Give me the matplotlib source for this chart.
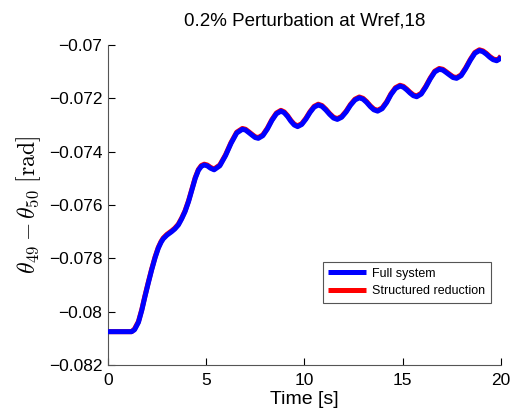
import matplotlib
matplotlib.use('Agg')
import matplotlib.pyplot as plt

# Данные
t = [0, 1.2, 1.35, 1.55, 1.72, 1.88, 2.05, 2.22, 2.4, 2.56, 2.7, 2.81, 3.0, 3.24,
     3.4, 3.58, 3.75, 3.92, 4.1, 4.26, 4.44, 4.6, 4.75, 4.9, 5.05, 5.22, 5.4,
     5.69, 5.98, 6.26, 6.55, 6.84,
     7.0, 7.16, 7.33, 7.49, 7.65,
     7.88, 8.11, 8.34, 8.57, 8.8,
     8.97, 9.14, 9.31, 9.48, 9.65,
     9.86, 10.07, 10.28, 10.49, 10.7,
     10.89, 11.09, 11.28, 11.48, 11.67,
     11.89, 12.12, 12.34, 12.57, 12.79,
     12.98, 13.16, 13.35, 13.53, 13.72,
     13.95, 14.18, 14.4, 14.63, 14.86,
     15.03, 15.2, 15.37, 15.54, 15.71,
     15.94, 16.17, 16.4, 16.63, 16.86,
     17.04, 17.21, 17.39, 17.56, 17.74,
     17.97, 18.2, 18.44, 18.67, 18.9,
     19.08, 19.25, 19.43, 19.6, 19.78,
     19.9, 20.0]

full_system = [-0.08075, -0.08075, -0.08068, -0.08040, -0.07995, -0.07944, -0.07893,
               -0.07844, -0.07797, -0.07762, -0.07740, -0.07727, -0.07713, -0.07700,
               -0.07690, -0.07675, -0.07652, -0.07625, -0.07587, -0.07546, -0.07500,
               -0.07470, -0.07455, -0.07450, -0.07453, -0.07462, -0.07468,
               -0.07453, -0.07415, -0.07369, -0.07330, -0.07316,
               -0.07319, -0.07328, -0.07338, -0.07347, -0.07350,
               -0.07340, -0.07315, -0.07283, -0.07258, -0.07248,
               -0.07254, -0.07268, -0.07286, -0.07300, -0.07306,
               -0.07298, -0.07278, -0.07253, -0.07233, -0.07225,
               -0.07230, -0.07244, -0.07260, -0.07274, -0.07279,
               -0.07271, -0.07251, -0.07226, -0.07206, -0.07198,
               -0.07203, -0.07215, -0.07231, -0.07243, -0.07248,
               -0.07239, -0.07216, -0.07186, -0.07163, -0.07154,
               -0.07158, -0.07168, -0.07180, -0.07190, -0.07194,
               -0.07184, -0.07158, -0.07127, -0.07101, -0.07091,
               -0.07094, -0.07103, -0.07113, -0.07122, -0.07125,
               -0.07115, -0.07089, -0.07057, -0.07031, -0.07021,
               -0.07025, -0.07034, -0.07046, -0.07055, -0.07059,
               -0.07054, -0.07044]

structured_reduction = [-0.08075, -0.08075, -0.08065, -0.08037, -0.07992, -0.07941, -0.07890,
                        -0.07841, -0.07794, -0.07759, -0.07737, -0.07724, -0.07710, -0.07697,
                        -0.07687, -0.07672, -0.07649, -0.07622, -0.07584, -0.07543, -0.07497,
                        -0.07467, -0.07452, -0.07447, -0.07450, -0.07459, -0.07465,
                        -0.07450, -0.07412, -0.07366, -0.07327, -0.07313,
                        -0.07316, -0.07325, -0.07335, -0.07344, -0.07347,
                        -0.07337, -0.07312, -0.07280, -0.07255, -0.07245,
                        -0.07251, -0.07265, -0.07283, -0.07297, -0.07303,
                        -0.07295, -0.07275, -0.07250, -0.07230, -0.07222,
                        -0.07227, -0.07241, -0.07257, -0.07271, -0.07276,
                        -0.07268, -0.07248, -0.07223, -0.07203, -0.07195,
                        -0.07200, -0.07212, -0.07228, -0.07240, -0.07245,
                        -0.07236, -0.07213, -0.07183, -0.07160, -0.07151,
                        -0.07155, -0.07165, -0.07177, -0.07187, -0.07191,
                        -0.07181, -0.07155, -0.07124, -0.07098, -0.07088,
                        -0.07091, -0.07100, -0.07110, -0.07119, -0.07122,
                        -0.07112, -0.07086, -0.07054, -0.07028, -0.07018,
                        -0.07022, -0.07031, -0.07043, -0.07052, -0.07056,
                        -0.07051, -0.07041]

y_ticks = [-0.082, -0.08, -0.078, -0.076, -0.074, -0.072, -0.07]
y_tick_labels = ['\u22120.082', '\u22120.08', '\u22120.078', '\u22120.076',
                 '\u22120.074', '\u22120.072', '\u22120.07']
x_ticks = [0, 5, 10, 15, 20]

plt.rcParams['font.family'] = ['Liberation Sans', 'DejaVu Sans']
plt.rcParams['mathtext.fontset'] = 'cm'

fig = plt.figure(figsize=(5.13, 4.16), dpi=100)
ax = fig.add_axes([0.2105, 0.1226, 0.7661, 0.7692])

ax.plot(t, structured_reduction, color='#ff0000', lw=3.6, label='Structured reduction',
        zorder=2, solid_joinstyle='round', solid_capstyle='butt')
ax.plot(t, full_system, color='#0000ff', lw=3.6, label='Full system',
        zorder=3, solid_joinstyle='round', solid_capstyle='butt')

ax.set_xlim(0, 20)
ax.set_ylim(-0.082, -0.07)
ax.set_xticks(x_ticks)
ax.set_yticks(y_ticks)
ax.set_yticklabels(y_tick_labels)
ax.tick_params(direction='in', labelsize=12.5, length=5, width=0.8, pad=4)
ax.tick_params(axis='x', pad=6)

ax.spines['top'].set_visible(False)
ax.spines['right'].set_visible(False)
ax.spines['left'].set_color('#555555')
ax.spines['bottom'].set_color('#555555')

ax.set_xlabel('Time [s]', fontsize=14, labelpad=2)
ax.set_ylabel(r'$\theta_{49}-\theta_{50}\ [\mathrm{rad}]$', fontsize=17, labelpad=4)
ax.set_title('0.2% Perturbation at Wref,18', fontsize=13.5, pad=14)

handles, labels = ax.get_legend_handles_labels()
leg = ax.legend(handles[::-1], labels[::-1], loc='lower right',
                bbox_to_anchor=(0.99, 0.175), fontsize=9, handlelength=3.0,
                fancybox=False, framealpha=1, edgecolor='#555555',
                borderpad=0.45, labelspacing=0.45, handletextpad=0.5)
leg.get_frame().set_linewidth(0.8)

fig.savefig('out.png', dpi=100)
